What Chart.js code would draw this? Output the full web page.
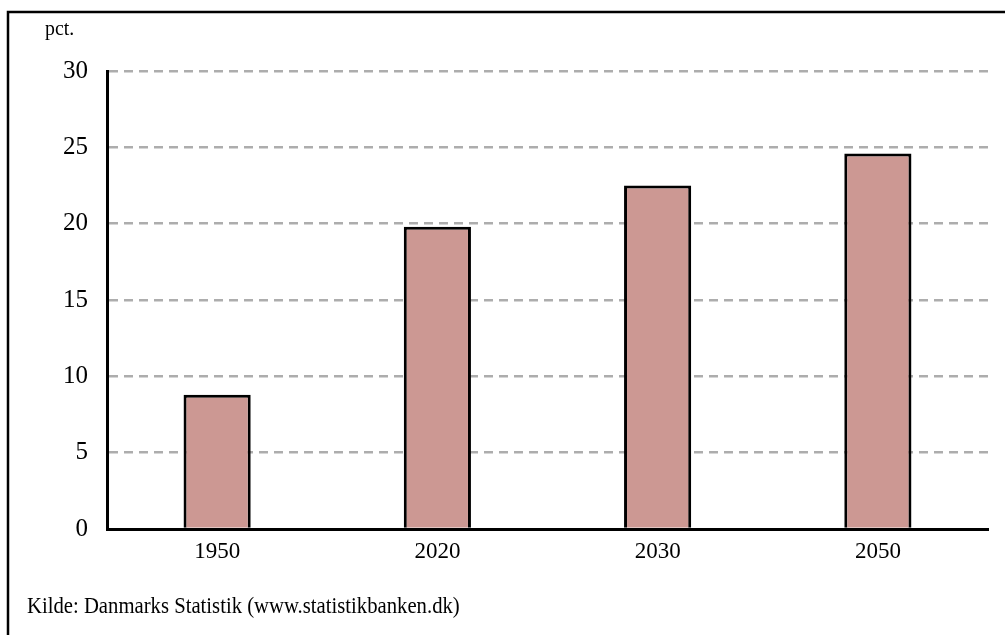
<!DOCTYPE html>
<html>
<head>
<meta charset="utf-8">
<script src="https://cdn.jsdelivr.net/npm/chart.js@4"></script>
<style>
  html, body { margin: 0; padding: 0; background: #fff; }
  #wrap { position: relative; width: 1005px; height: 635px; }
</style>
</head>
<body>
<div id="wrap"><canvas id="c" width="1005" height="635"></canvas></div>
<script>
const years = ['1950', '2020', '2030', '2050'];
const shares = [8.8, 19.8, 22.5, 24.6];
const yTicks = [0, 5, 10, 15, 20, 25, 30];
const unitLabel = 'pct.';
const sourceNote = 'Kilde: Danmarks Statistik (www.statistikbanken.dk)';

const serif = '"Liberation Serif", "Times New Roman", serif';

// Frame around the figure plus unit label and source line
const decorations = {
  id: 'decorations',
  beforeDraw(chart) {
    const ctx = chart.ctx;
    ctx.save();
    ctx.fillStyle = '#fff';
    ctx.fillRect(0, 0, chart.width, chart.height);
    ctx.strokeStyle = '#000';
    ctx.lineWidth = 2.5;
    ctx.beginPath();
    ctx.moveTo(8, chart.height);
    ctx.lineTo(8, 12);
    ctx.lineTo(chart.width, 12);
    ctx.stroke();
    ctx.restore();
  },
  afterDraw(chart) {
    const ctx = chart.ctx;
    ctx.save();
    ctx.fillStyle = '#000';
    ctx.textBaseline = 'middle';
    ctx.textAlign = 'left';
    ctx.font = '22px ' + serif;
    ctx.save();
    ctx.translate(45, 29);
    ctx.scale(0.9, 1);
    ctx.fillText(unitLabel, 0, 0);
    ctx.restore();
    ctx.save();
    ctx.translate(27, 607);
    ctx.scale(0.9, 1);
    ctx.font = '23px ' + serif;
    ctx.fillText(sourceNote, 0, 0);
    ctx.restore();
    ctx.restore();
  }
};

new Chart(document.getElementById('c'), {
  type: 'bar',
  data: {
    labels: years,
    datasets: [{
      data: shares,
      backgroundColor: '#cc9893',
      borderColor: '#000',
      borderWidth: 3,
      borderSkipped: 'bottom',
      categoryPercentage: 1,
      barPercentage: 0.305
    }]
  },
  options: {
    responsive: false,
    animation: false,
    devicePixelRatio: 1,
    layout: { padding: { left: 0, top: 71, right: 17, bottom: 0 } },
    plugins: { legend: { display: false }, tooltip: { enabled: false } },
    scales: {
      x: {
        grid: { display: false, drawTicks: false },
        border: { display: true, color: '#000', width: 3 },
        ticks: { color: '#000', padding: 9, font: { family: serif, size: 23 } },
        afterFit(scale) { scale.height = 106; }
      },
      y: {
        min: 0,
        max: 30,
        afterBuildTicks(scale) { scale.ticks = yTicks.map(v => ({ value: v })); },
        grid: { color: '#adadad', lineWidth: 2.5, drawTicks: false },
        border: { display: true, color: '#000', width: 3, dash: [9, 6] },
        ticks: { color: '#000', padding: 19, font: { family: serif, size: 25 } },
        afterFit(scale) { scale.width = 107; }
      }
    }
  },
  plugins: [decorations]
});
</script>
</body>
</html>
